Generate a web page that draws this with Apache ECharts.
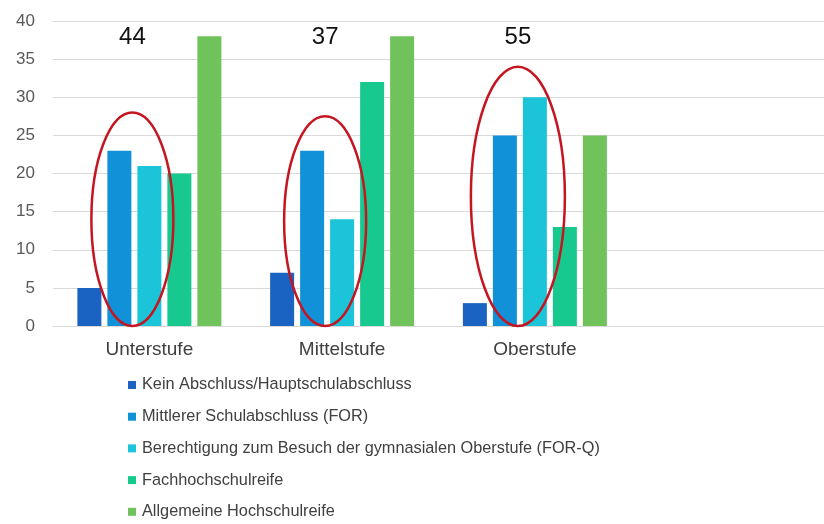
<!DOCTYPE html>
<html>
<head>
<meta charset="utf-8">
<style>
  html, body { margin: 0; padding: 0; background: #fff; }
  #chart { width: 824px; height: 524px; }
</style>
<script src="https://cdn.jsdelivr.net/npm/echarts@6/dist/echarts.min.js"></script>
</head>
<body>
<div id="chart"></div>
<script>
(function() {
  // --- data ---
  var categories = ['Unterstufe', 'Mittelstufe', 'Oberstufe', ''];
  var seriesNames = [
    'Kein Abschluss/Hauptschulabschluss',
    'Mittlerer Schulabschluss (FOR)',
    'Berechtigung zum Besuch der gymnasialen Oberstufe (FOR-Q)',
    'Fachhochschulreife',
    'Allgemeine Hochschulreife'
  ];
  var kein = [5, 7, 3, null];
  var mittlerer = [23, 23, 25, null];
  var berechtigung = [21, 14, 30, null];
  var fachhoch = [20, 32, 13, null];
  var allgemein = [38, 38, 25, null];
  var colors = ['#1b63c2', '#1191d8', '#1cc4d9', '#18c98f', '#70c25b'];

  // annotations: category index, top of the red ellipse (value), number written above
  var markCats = [0, 1, 2];
  var markTops = [28, 27.5, 34];
  var markNums = ['44', '37', '55'];

  var chart = echarts.init(document.getElementById('chart'), null, { renderer: 'canvas' });

  var values = [kein, mittlerer, berechtigung, fachhoch, allgemein];
  var series = values.map(function(v, i) {
    return {
      name: seriesNames[i],
      type: 'bar',
      data: v,
      barWidth: 24,
      barGap: '25%',
      itemStyle: { color: colors[i] }
    };
  });

  series.push({
    type: 'custom',
    name: 'marks',
    silent: true,
    z: 10,
    data: markCats.map(function(c, i) { return [c, markTops[i], markNums[i]]; }),
    renderItem: function(params, api) {
      var top = api.coord([api.value(0), api.value(1)]);
      var base = api.coord([api.value(0), 0]);
      var numPos = api.coord([api.value(0), 37.8]);
      var cx = top[0] - 17;
      var rx = params.dataIndex === 2 ? 47 : 41;
      return {
        type: 'group',
        children: [
          {
            type: 'ellipse',
            shape: { cx: cx, cy: (top[1] + base[1]) / 2, rx: rx, ry: (base[1] - top[1]) / 2 },
            style: { fill: 'none', stroke: '#c41620', lineWidth: 2.5 }
          },
          {
            type: 'text',
            x: cx, y: numPos[1],
            style: {
              text: api.value(2),
              fill: '#111',
              font: '24px Liberation Sans, Arial, sans-serif',
              align: 'center',
              verticalAlign: 'middle'
            }
          }
        ]
      };
    }
  });

  chart.setOption({
    animation: false,
    textStyle: { fontFamily: 'Liberation Sans, Arial, sans-serif' },
    grid: { left: 53, right: -9, top: 21, bottom: 198 },
    legend: {
      data: seriesNames,
      orient: 'vertical',
      left: 128,
      top: 377,
      padding: 0,
      itemWidth: 8,
      itemHeight: 8,
      itemGap: 15.7,
      icon: 'rect',
      textStyle: { color: '#404040', fontSize: 16.3, padding: [0, 0, 0, 1] }
    },
    xAxis: {
      type: 'category',
      data: categories,
      axisLine: { show: true, lineStyle: { color: '#d9d9d9' } },
      axisTick: { show: false },
      axisLabel: { color: '#404040', fontSize: 19, margin: 14 }
    },
    yAxis: {
      type: 'value',
      min: 0,
      max: 40,
      interval: 5,
      axisLine: { show: false },
      axisTick: { show: false },
      axisLabel: { color: '#595959', fontSize: 17, margin: 18 },
      splitLine: { lineStyle: { color: '#d9d9d9' } }
    },
    series: series
  });

  window.addEventListener('resize', function() {
    chart.resize();
  });
})();
</script>
</body>
</html>
